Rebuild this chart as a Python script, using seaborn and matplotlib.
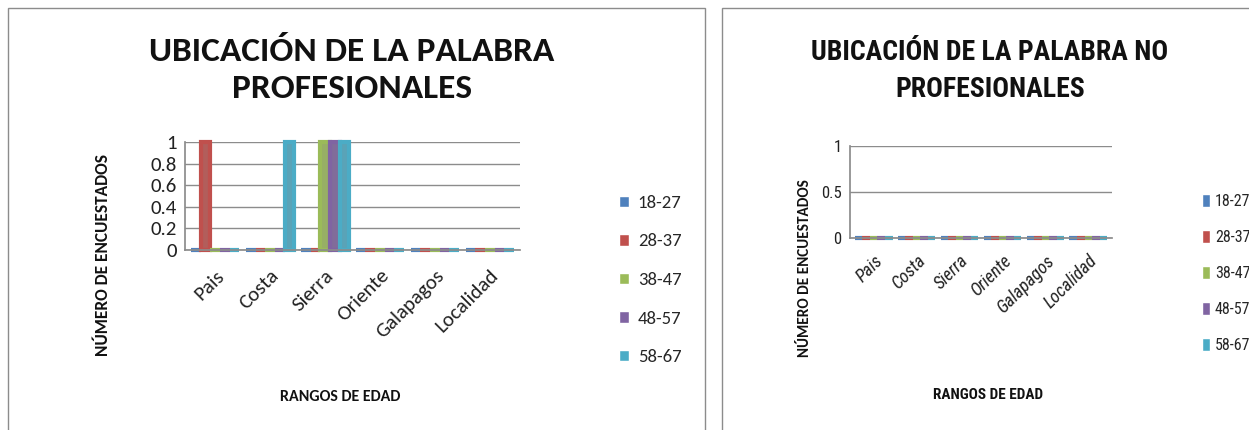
import numpy as np
import pandas as pd
import matplotlib
matplotlib.use("Agg")
import matplotlib.pyplot as plt
from matplotlib.patches import Rectangle
from matplotlib import font_manager
import seaborn as sns

# data
categorias = ["Pais", "Costa", "Sierra", "Oriente", "Galapagos", "Localidad"]
rangos = ["18-27", "28-37", "38-47", "48-57", "58-67"]
colores = ["#4F81BD", "#C0504D", "#9BBB59", "#8064A2", "#4BACC6"]

# one list per age range, values by category
prof_18_27 = [0, 0, 0, 0, 0, 0]
prof_28_37 = [1, 0, 0, 0, 0, 0]
prof_38_47 = [0, 0, 1, 0, 0, 0]
prof_48_57 = [0, 0, 1, 0, 0, 0]
prof_58_67 = [0, 1, 1, 0, 0, 0]

noprof_18_27 = [0, 0, 0, 0, 0, 0]
noprof_28_37 = [0, 0, 0, 0, 0, 0]
noprof_38_47 = [0, 0, 0, 0, 0, 0]
noprof_48_57 = [0, 0, 0, 0, 0, 0]
noprof_58_67 = [0, 0, 0, 0, 0, 0]


def to_long(series):
    rows = []
    for rango, vals in zip(rangos, series):
        for cat, v in zip(categorias, vals):
            rows.append({"categoria": cat, "rango": rango, "valor": v})
    return pd.DataFrame(rows)


df_prof = to_long([prof_18_27, prof_28_37, prof_38_47, prof_48_57, prof_58_67])
df_noprof = to_long([noprof_18_27, noprof_28_37, noprof_38_47, noprof_48_57, noprof_58_67])

# pick fonts close to Calibri
nombres = {f.name for f in font_manager.fontManager.ttflist}


def primera(*opciones):
    for o in opciones:
        if o in nombres:
            return o
    return "DejaVu Sans"


normal = [primera("Carlito", "Open Sans"), "DejaVu Sans"]
angosta = [primera("Roboto Condensed", "Barlow Condensed", "Open Sans Condensed"), "DejaVu Sans"]

sns.set_theme(style="white")
plt.rcParams["font.family"] = normal

W, H = 1249, 430
fig = plt.figure(figsize=(W / 100, H / 100), dpi=100)

# chart frames
fig.patches.append(Rectangle((8 / W, -0.05), 697 / W, 1 - 8 / H + 0.05,
                             transform=fig.transFigure, fill=False,
                             edgecolor="#8c8c8c", linewidth=1))
fig.patches.append(Rectangle((722 / W, -0.05), 540 / W, 1 - 8 / H + 0.05,
                             transform=fig.transFigure, fill=False,
                             edgecolor="#8c8c8c", linewidth=1))


def panel(df, rect, ticks, ticklabels, tick_fs, cat_fs, italic, family, pad):
    ax = fig.add_axes(rect)
    sns.barplot(data=df, x="categoria", y="valor", hue="rango",
                palette=colores, width=0.88, ax=ax,
                edgecolor=None, linewidth=0, legend=True)
    # flat slabs for the zero bars
    for cont, col in zip(ax.containers, colores):
        for bar in cont:
            bar.set_edgecolor(col)
            bar.set_linewidth(3)
            bar.set_clip_on(False)
    ax.set_ylim(0, 1)
    ax.set_yticks(ticks)
    ax.set_yticklabels(ticklabels, fontsize=tick_fs, color="#222222", family=family)
    ax.yaxis.grid(True, color="#8c8c8c", linewidth=1)
    ax.set_axisbelow(True)
    for s in ["top", "right"]:
        ax.spines[s].set_visible(False)
    for s in ["left", "bottom"]:
        ax.spines[s].set_color("#8c8c8c")
    ax.tick_params(axis="x", length=0, pad=pad)
    ax.tick_params(axis="y", length=0, pad=6)
    ax.set_xticks(range(len(categorias)))
    ax.set_xticklabels(categorias, rotation=45, ha="right", rotation_mode="anchor",
                       fontsize=cat_fs, style="italic" if italic else "normal",
                       color="#222222", family=family)
    ax.set_xlim(-0.55, len(categorias) - 0.45)
    ax.set_xlabel("")
    ax.set_ylabel("")
    ax.get_legend().remove()
    return ax


ax1 = panel(df_prof, [185 / W, 1 - 250 / H, 335 / W, 108 / H],
            [0, 0.2, 0.4, 0.6, 0.8, 1], ["0", "0.2", "0.4", "0.6", "0.8", "1"],
            15, 15, False, normal, 12)
ax2 = panel(df_noprof, [850 / W, 1 - 238 / H, 262 / W, 92 / H],
            [0, 0.5, 1], ["0", "0.5", "1"], 12, 13, True, angosta, 10)

# titles
fig.text(352 / W, 1 - 70 / H, "UBICACIÓN DE LA PALABRA\nPROFESIONALES",
         ha="center", va="center", fontsize=25.5, fontweight="bold",
         linespacing=1.3, color="#111111")
fig.text(990 / W, 1 - 71 / H, "UBICACIÓN DE LA PALABRA NO\nPROFESIONALES",
         ha="center", va="center", fontsize=20, fontweight="bold",
         linespacing=1.45, color="#111111", family=angosta)

# axis titles
fig.text(103 / W, 1 - 255 / H, "NÚMERO DE ENCUESTADOS", rotation=90,
         ha="center", va="center", fontsize=12.5, fontweight="bold", color="#111111")
fig.text(340 / W, 1 - 397 / H, "RANGOS DE EDAD", ha="center", va="center",
         fontsize=11.5, fontweight="bold", color="#111111")
fig.text(805 / W, 1 - 268 / H, "NÚMERO DE ENCUESTADOS", rotation=90,
         ha="center", va="center", fontsize=11, fontweight="bold", color="#111111")
fig.text(988 / W, 1 - 395 / H, "RANGOS DE EDAD", ha="center", va="center",
         fontsize=11, fontweight="bold", color="#111111", family=angosta)

# legends
handles = [Rectangle((0, 0), 1, 1, facecolor=c) for c in colores]
fig.legend(handles, rangos, loc="upper left", bbox_to_anchor=(619 / W, 1 - 195 / H),
           frameon=False, prop={"family": normal, "size": 13.5},
           handlelength=0.55, handleheight=0.55, labelspacing=1.2, handletextpad=0.45,
           borderpad=0, borderaxespad=0)
fig.legend(handles, rangos, loc="upper left", bbox_to_anchor=(1202 / W, 1 - 194 / H),
           frameon=False, prop={"family": angosta, "size": 11.5},
           handlelength=0.5, handleheight=0.9, labelspacing=1.3, handletextpad=0.3,
           borderpad=0, borderaxespad=0)

fig.savefig("out.png", dpi=100, facecolor="white")
